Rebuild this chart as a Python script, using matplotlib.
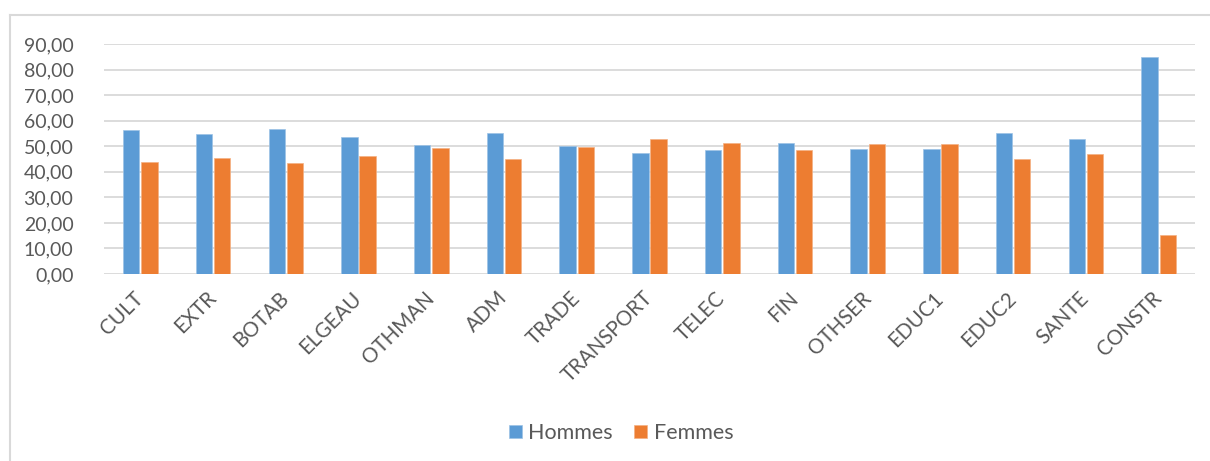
import numpy as np
import matplotlib.pyplot as plt
import matplotlib.transforms as mtransforms
from matplotlib.lines import Line2D
from matplotlib.ticker import FuncFormatter

categories = ['CULT', 'EXTR', 'BOTAB', 'ELGEAU', 'OTHMAN', 'ADM', 'TRADE', 'TRANSPORT',
              'TELEC', 'FIN', 'OTHSER', 'EDUC1', 'EDUC2', 'SANTE', 'CONSTR']
hommes = [56.2, 54.8, 56.6, 53.8, 50.5, 55.0, 50.2, 47.2, 48.6, 51.4, 49.0, 49.1, 55.0, 53.0, 84.8]
femmes = [43.8, 45.2, 43.4, 46.2, 49.5, 45.0, 49.8, 52.8, 51.4, 48.6, 51.0, 50.9, 45.0, 47.0, 15.2]

plt.rcParams['font.family'] = ['Lato', 'DejaVu Sans']
text_col = '#595959'
grid_col = '#d9d9d9'

fig = plt.figure(figsize=(12.1, 4.61), dpi=100)
ax = fig.add_axes([104 / 1210, 1 - 274 / 461, (1195 - 104) / 1210, 230 / 461])

x = np.arange(len(categories))
w = 0.225
ax.bar(x - 0.125, hommes, w, color='#5b9bd5', edgecolor='#9dc3e6', linewidth=0.5, label='Hommes', zorder=3)
ax.bar(x + 0.125, femmes, w, color='#ed7d31', edgecolor='#f4b183', linewidth=0.5, label='Femmes', zorder=3)

ax.set_xlim(-0.5, len(categories) - 0.5)
ax.set_ylim(0, 90)
ax.set_yticks(np.arange(0, 91, 10))
ax.yaxis.set_major_formatter(FuncFormatter(lambda v, p: f'{v:.2f}'.replace('.', ',')))
ax.grid(axis='y', color=grid_col, linewidth=1.3, zorder=0)
for s in ['top', 'right', 'left', 'bottom']:
    ax.spines[s].set_visible(False)
ax.tick_params(length=0, labelsize=14, colors=text_col)
ax.tick_params(axis='y', pad=22)
ax.set_xticks(x)
ax.set_xticklabels(categories, rotation=45, ha='right', rotation_mode='anchor', fontsize=14.8)
ax.tick_params(axis='x', pad=10)
shift = mtransforms.ScaledTranslation(-7 / 100, 0, fig.dpi_scale_trans)
for lbl in ax.get_xticklabels():
    lbl.set_transform(lbl.get_transform() + shift)

ax.legend(loc='center', bbox_to_anchor=((621 - 104) / 1091, (433 - 274) / -230), ncol=2, frameon=False,
          fontsize=15.5, handlelength=0.6, handleheight=0.6, handletextpad=0.3,
          columnspacing=1.0, labelcolor=text_col)

# chart frame
fig.add_artist(Line2D([10 / 1210, 10 / 1210], [0, 1 - 15 / 461], color=grid_col, linewidth=1.5))
fig.add_artist(Line2D([10 / 1210, 1], [1 - 15 / 461, 1 - 15 / 461], color=grid_col, linewidth=1.5))

fig.savefig('out.png', dpi=100)
